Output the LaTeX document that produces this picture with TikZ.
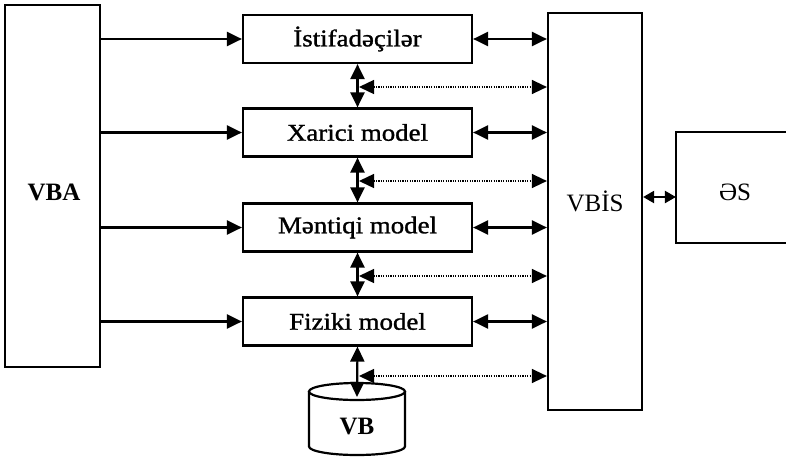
\documentclass[tikz,border=0pt]{standalone}
\usepackage{fontspec}
\setmainfont{Liberation Serif}
\newfontfamily\boxfont[FakeStretch=1.12,FakeBold=1.2]{Liberation Serif}
\usetikzlibrary{arrows.meta,calc}
\begin{document}
\begin{tikzpicture}[x=1pt,y=-1pt,line width=2.2pt,
  box/.style={draw,line width=2.2pt,inner sep=0pt},
  mbox/.style={box,minimum width=229pt,minimum height=48pt,font=\boxfont\fontsize{24}{26}\selectfont},
  tip/.tip={Triangle[length=15pt,width=14pt]},
  dbl/.style={tip-tip},
  one/.style={-tip},
  dotl/.style={tip-tip,line width=1.4pt,dash pattern=on 1.2pt off 1.2pt}]
\useasboundingbox (0,0) rectangle (786,466);
% left block
\node[box,minimum width=95pt,minimum height=362pt] (vba) at (52.5,186) {};
\node[font=\fontsize{25}{27}\selectfont\bfseries] (vbal) at (54,192) {VBA};
% middle boxes
\node[mbox] (m1) at (357.5,39) {İstifadəçilər};
\node[mbox] (m2) at (357.5,132.5) {Xarici model};
\node[mbox] (m3) at (357.5,227.5) {Məntiqi model};
\node[mbox] (m4) at (357.5,321.5) {Fiziki model};
% right block
\node[box,minimum width=94pt,minimum height=397pt] (vbis) at (595,211.5) {};
\node[font=\fontsize{25}{27}\selectfont] (vbisl) at (595,201) {VBİS};
% OS box (open at the right edge)
\node[minimum width=130pt,minimum height=109pt,inner sep=0pt] (es) at (742,187.5) {};
\draw (es.north east) -- (es.north west) -- (es.south west) -- (es.south east);
\node[font=\fontsize{25}{27}\selectfont] (esl) at (735,192) {ƏS};
% database cylinder
\draw (309,391.5) -- (309,446.5) arc[start angle=180,end angle=360,x radius=48pt,y radius=8.5pt] -- (405,391.5);
\draw (357,391.5) ellipse [x radius=48pt,y radius=8.5pt];
\node[font=\fontsize{25}{27}\selectfont\bfseries] (vb) at (357,426) {VB};
\coordinate (vbtop) at (357,397);
% VBA arrows and links to VBIS
\foreach \m in {m1,m2,m3,m4}{
  \draw[one] (vba.east |- \m.west) -- (\m.west);
  \draw[dbl] (\m.east) -- (\m.east -| vbis.west);
}
% vertical arrows
\draw[dbl] (m1.south) -- (m2.north);
\draw[dbl] (m2.south) -- (m3.north);
\draw[dbl] (m3.south) -- (m4.north);
\draw[dbl] (m4.south) -- (vbtop);
% dotted arrows
\coordinate (d1) at (359,87);
\coordinate (d2) at (359,181);
\coordinate (d3) at (359,276);
\coordinate (d4) at (359,376);
\foreach \d in {d1,d2,d3,d4}{
  \draw[dotl] (\d) -- (\d -| vbis.west);
}
% VBIS <-> OS
\coordinate (ea) at (660,197);
\draw[{Triangle[length=11pt,width=12pt]}-{Triangle[length=11pt,width=12pt]}] (ea -| vbis.east) -- (ea -| es.west);
\end{tikzpicture}
\end{document}
